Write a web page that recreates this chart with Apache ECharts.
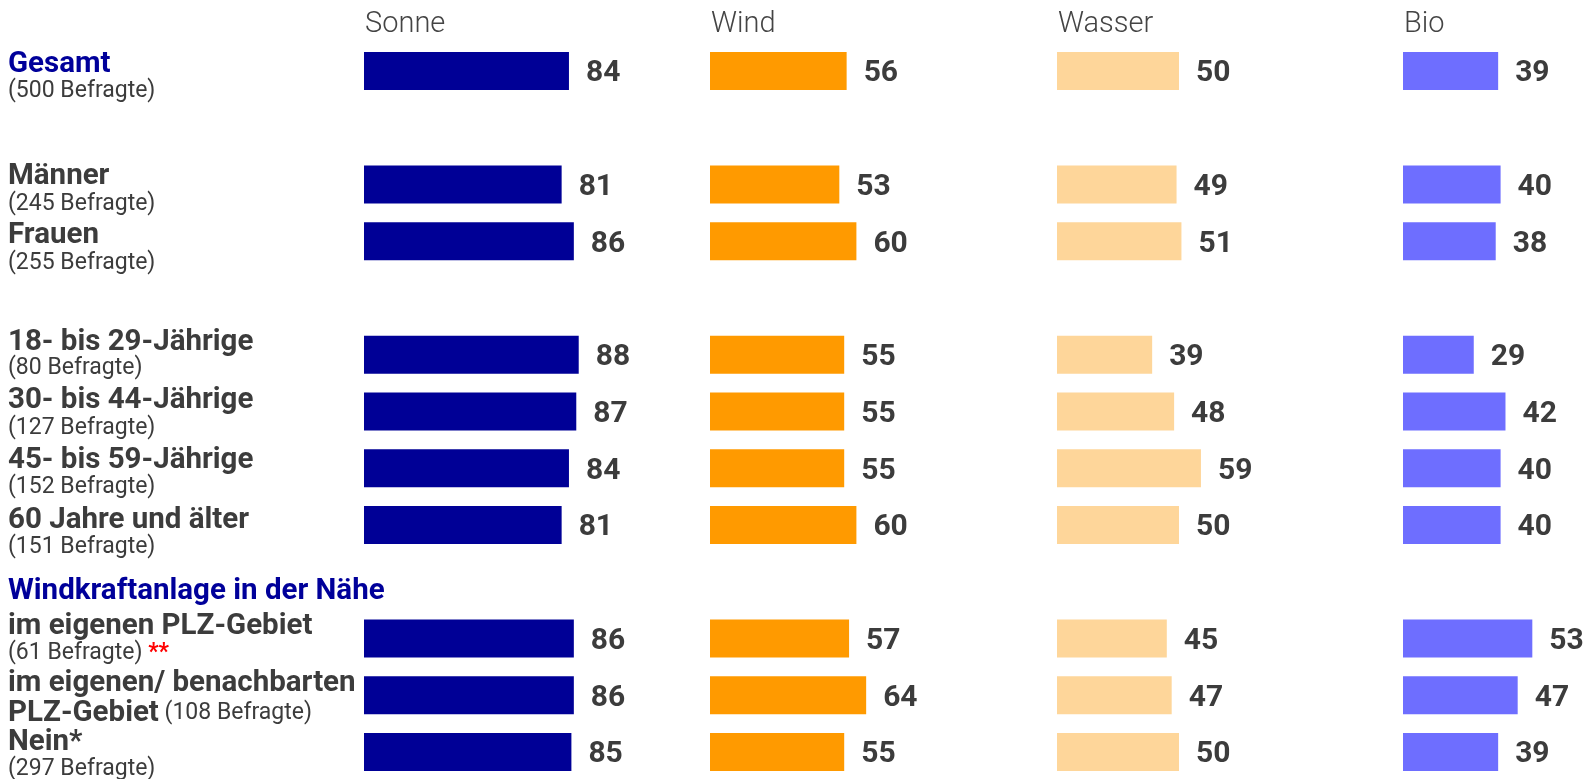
<!DOCTYPE html>
<html>
<head>
<meta charset="utf-8">
<script src="https://cdn.jsdelivr.net/npm/echarts@6/dist/echarts.min.js"></script>
<style>
  html, body { margin: 0; padding: 0; background: #ffffff; }
  #chart { width: 1589px; height: 779px; }
</style>
</head>
<body>
<div id="chart"></div>
<script>
// Energy sources (one panel each)
const sources = ['Sonne', 'Wind', 'Wasser', 'Bio'];
const sourceColors = ['#000096', '#ff9a00', '#fed69a', '#6e6eff'];

// Respondent groups, top to bottom
const rowKeys = ['gesamt', 'maenner', 'frauen', 'a18', 'a30', 'a45', 'a60', 'plz', 'plzNachbar', 'nein'];
const rowTitles = ['Gesamt', 'Männer', 'Frauen', '18- bis 29-Jährige', '30- bis 44-Jährige',
  '45- bis 59-Jährige', '60 Jahre und älter', 'im eigenen PLZ-Gebiet', 'im eigenen/ benachbarten', 'Nein*'];
const rowCounts = ['(500 Befragte)', '(245 Befragte)', '(255 Befragte)', '(80 Befragte)', '(127 Befragte)',
  '(152 Befragte)', '(151 Befragte)', '(61 Befragte)', '(108 Befragte)', '(297 Befragte)'];

// Values in percent
const sonne  = [84, 81, 86, 88, 87, 84, 81, 86, 86, 85];
const wind   = [56, 53, 60, 55, 55, 55, 60, 57, 64, 55];
const wasser = [50, 49, 51, 39, 48, 59, 50, 45, 47, 50];
const bio    = [39, 40, 38, 29, 42, 40, 40, 53, 47, 39];
const valuesBySource = [sonne, wind, wasser, bio];

// Category slots: groups are separated by empty slots
const slots = ['gesamt', 'gap1', 'maenner', 'frauen', 'gap2', 'a18', 'a30', 'a45', 'a60', 'gap3', 'plz', 'plzNachbar', 'nein'];
const groupHeading = 'Windkraftanlage in der Nähe';

const FONT = 'Roboto, "Noto Sans", sans-serif';
const TEXT = '#3c3c3c';
const NAVY = '#00009a';

const CHART_W = 1589;
const panelLeft = [364, 710, 1057, 1403];
const panelWidth = 244;          // width of the 0..100 scale
const gridTop = 42.6;
const gridHeight = 737.75;

function slotData(values) {
  return slots.map(s => {
    const i = rowKeys.indexOf(s);
    return i < 0 ? '-' : values[i];
  });
}

const grids = [], xAxes = [], yAxes = [], series = [];
sources.forEach((name, k) => {
  grids.push({
    left: panelLeft[k], top: gridTop, width: panelWidth, height: gridHeight,
    right: CHART_W - panelLeft[k] - panelWidth,
    outerBoundsMode: 'none'
  });
  xAxes.push({ type: 'value', gridIndex: k, min: 0, max: 100, show: false });
  yAxes.push({ type: 'category', gridIndex: k, data: slots, inverse: true, show: false });
  series.push({
    name, type: 'bar', xAxisIndex: k, yAxisIndex: k,
    data: slotData(valuesBySource[k]),
    barWidth: 38,
    itemStyle: { color: sourceColors[k] },
    label: {
      show: true, position: 'right', distance: 17, offset: [0, 3],
      fontFamily: FONT, fontWeight: 'bold', fontSize: 30, color: TEXT
    },
    silent: true, animation: false
  });
});

const chart = echarts.init(document.getElementById('chart'), null, { renderer: 'canvas' });
chart.setOption({
  backgroundColor: '#ffffff',
  animation: false,
  grid: grids,
  xAxis: xAxes,
  yAxis: yAxes,
  series
});

// Row labels and panel headings, placed from the category axis
const rowY = key => chart.convertToPixel({ yAxisIndex: 0 }, key);
const NUDGE = 2;   // canvas 'middle' sits a little above the cap-height centre
// vertical offsets of the two text lines relative to the row centre
const lineOffsets = {
  gesamt: [-8, 18], maenner: [-10, 18], frauen: [-7.5, 20.5],
  a18: [-14.5, 12], a30: [-12.5, 14.5], a45: [-9.5, 17.5], a60: [-6, 20],
  plz: [-14, 12.5], plzNachbar: [-14, 16], nein: [-11.5, 15.5]
};
const BOLD_SIZE = 29.5, SUB_SIZE = 23;
const boldStyle = { fontFamily: FONT, fontWeight: 'bold', fontSize: BOLD_SIZE, fill: TEXT };
const subStyle = { fontFamily: FONT, fontWeight: 'normal', fontSize: SUB_SIZE, fill: TEXT };

const graphics = [];
sources.forEach((name, k) => {
  graphics.push({
    type: 'text', x: panelLeft[k] + 1, y: 22.5 + NUDGE, silent: true,
    style: { text: name, fontFamily: FONT, fontWeight: 300, fontSize: 29, fill: '#444444', verticalAlign: 'middle' }
  });
});
rowKeys.forEach((key, i) => {
  const cy = rowY(key);
  const off = lineOffsets[key];
  graphics.push({
    type: 'text', x: 8, y: cy + off[0] + NUDGE, silent: true,
    style: Object.assign({}, boldStyle, { text: rowTitles[i], verticalAlign: 'middle', fill: key === 'gesamt' ? NAVY : TEXT })
  });
  let sub;
  if (key === 'plz') {
    sub = { text: '{n|' + rowCounts[i] + '} {r|**}', rich: {
      n: { fontFamily: FONT, fontSize: SUB_SIZE, fill: TEXT },
      r: { fontFamily: FONT, fontSize: SUB_SIZE, fill: '#ff0000', fontWeight: 'bold' } } };
  } else if (key === 'plzNachbar') {
    sub = { text: '{b|PLZ-Gebiet} {n|' + rowCounts[i] + '}', rich: {
      b: { fontFamily: FONT, fontSize: BOLD_SIZE, fontWeight: 'bold', fill: TEXT },
      n: { fontFamily: FONT, fontSize: SUB_SIZE, fill: TEXT } } };
  } else {
    sub = { text: rowCounts[i] };
  }
  graphics.push({
    type: 'text', x: 8, y: cy + off[1] + NUDGE, silent: true,
    style: Object.assign({}, subStyle, sub, { verticalAlign: 'middle' })
  });
});
graphics.push({
  type: 'text', x: 8, y: rowY('gap3') + 7.5 + NUDGE, silent: true,
  style: Object.assign({}, boldStyle, { text: groupHeading, fill: NAVY, verticalAlign: 'middle' })
});
chart.setOption({ graphic: graphics });
</script>
</body>
</html>
